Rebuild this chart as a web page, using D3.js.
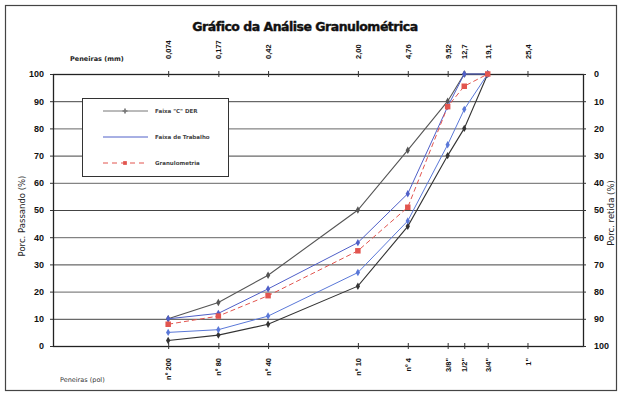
<!DOCTYPE html>
<html><head><meta charset="utf-8">
<script src="https://cdn.jsdelivr.net/npm/d3@7"></script>
<style>
body{margin:0;background:#fff;}
svg{display:block;font-family:"DejaVu Sans",Verdana,sans-serif;}
</style></head>
<body><svg id="c" width="621" height="397"></svg>
<script>
// ---- data ----
const sieveMm = [0.074, 0.177, 0.42, 2.00, 4.76, 9.52, 12.7, 19.1];
const faixaCSup = [10, 16, 26, 50, 72, 90, 100, 100];
const faixaCInf = [2, 4, 8, 22, 44, 70, 80, 100];
const trabalhoSup = [10, 12, 21, 38, 56, 88, 100, 100];
const trabalhoInf = [5, 6, 11, 27, 46, 74, 87, 100];
const granulometria = [8, 11, 18.5, 35, 51, 88, 95.5, 100];
const tickMm = [0.074, 0.177, 0.42, 2.00, 4.76, 9.52, 12.7, 19.1, 38.1];
const tickMmLabels = ["0,074", "0,177", "0,42", "2,00", "4,76", "9,52", "12,7", "19,1", "25,4"];
const tickPolLabels = ["nº 200", "nº 80", "nº 40", "nº 10", "nº 4", "3/8\"", "1/2\"", "3/4\"", "1\""];
const yTicks = [0, 10, 20, 30, 40, 50, 60, 70, 80, 90, 100];
const legendLabels = ["Faixa \"C\" DER", "Faixa de Trabalho", "Granulometria"];

const svg = d3.select("#c");
const L = 53, R = 583, T = 74, B = 346;
const x = d3.scaleLog().domain([0.01, 100]).range([L, R]);
const y = d3.scaleLinear().domain([0, 100]).range([B, T]);
const yr = d3.scaleLinear().domain([0, 100]).range([T, B]);

// outer frame
svg.append("rect").attr("x", 5.5).attr("y", 5.5).attr("width", 611).attr("height", 385)
  .attr("fill", "none").attr("stroke", "#444").attr("stroke-width", 1.2);

// title
svg.append("text").attr("x", 305).attr("y", 31).attr("text-anchor", "middle")
  .attr("font-size", 12.5).attr("font-weight", "bold").attr("fill", "#111")
  .attr("stroke", "#111").attr("stroke-width", 0.4)
  .attr("letter-spacing", -0.5).text("Gráfico da Análise Granulométrica");

// gridlines
svg.append("g").selectAll("line").data(yTicks).join("line")
  .attr("x1", L).attr("x2", R).attr("y1", d => y(d) + 0.5).attr("y2", d => y(d) + 0.5)
  .attr("stroke", (d, i) => i % 2 ? "#444" : "#666").attr("stroke-width", 1);

// frame of plot
svg.append("rect").attr("x", L + 0.5).attr("y", T + 0.5).attr("width", R - L).attr("height", B - T)
  .attr("fill", "none").attr("stroke", "#222").attr("stroke-width", 1.3);

// left axis
const gl = svg.append("g").attr("transform", `translate(${L},0)`)
  .call(d3.axisLeft(y).tickValues(yTicks).tickSize(3).tickFormat(d3.format("d")));
gl.select(".domain").remove();
gl.selectAll("text").attr("font-size", 9).attr("font-weight", "bold").attr("fill", "#111").attr("dx", -3);
gl.selectAll("line").attr("stroke", "#333");

// right axis
const gr = svg.append("g").attr("transform", `translate(${R},0)`)
  .call(d3.axisRight(yr).tickValues(yTicks).tickSize(3).tickFormat(d3.format("d")));
gr.select(".domain").remove();
gr.selectAll("text").attr("font-size", 9).attr("font-weight", "bold").attr("fill", "#111").attr("dx", 5);
gr.selectAll("line").attr("stroke", "#333");

// top axis (mm)
const gt = svg.append("g").attr("transform", `translate(0,${T})`)
  .call(d3.axisTop(x).tickValues(tickMm).tickSize(3).tickFormat((d, i) => tickMmLabels[i]));
gt.select(".domain").remove();
gt.selectAll("line").attr("stroke", "#333").attr("y2", 3).attr("y1", -3);
gt.selectAll("text").attr("font-size", 7.5).attr("font-weight", "bold").attr("fill", "#111")
  .attr("transform", "rotate(-90)").attr("text-anchor", "start").attr("x", 15).attr("y", 0).attr("dy", "0.35em");

// bottom axis (pol)
const gb = svg.append("g").attr("transform", `translate(0,${B})`)
  .call(d3.axisBottom(x).tickValues(tickMm).tickSize(3).tickFormat((d, i) => tickPolLabels[i]));
gb.select(".domain").remove();
gb.selectAll("line").attr("stroke", "#333").attr("y2", 3).attr("y1", -3);
gb.selectAll("text").attr("font-size", 7.5).attr("font-weight", "bold").attr("fill", "#111")
  .attr("transform", "rotate(-90)").attr("text-anchor", "end").attr("x", -12).attr("y", 0).attr("dy", "0.35em");

// axis titles
svg.append("text").attr("x", 70).attr("y", 61).attr("font-size", 6.5).attr("font-weight", "bold").attr("fill", "#222")
  .text("Peneiras  (mm)");
svg.append("text").attr("x", 60).attr("y", 382).attr("font-size", 6.5).attr("fill", "#333")
  .text("Peneiras  (pol)");
svg.append("text").attr("transform", "translate(25,216) rotate(-90)").attr("text-anchor", "middle")
  .attr("font-size", 8.5).attr("fill", "#222").text("Porc. Passando (%)");
svg.append("text").attr("transform", "translate(614,213) rotate(-90)").attr("text-anchor", "middle")
  .attr("font-size", 8.5).attr("fill", "#222").text("Porc. retida (%)");

// series
const series = [
  {v: faixaCSup, color: "#555", dash: null, marker: "diamond", w: 1.1},
  {v: faixaCInf, color: "#333", dash: null, marker: "diamond", w: 1.1},
  {v: trabalhoSup, color: "#4f5fc8", dash: null, marker: "diamond", w: 1},
  {v: trabalhoInf, color: "#5a78d8", dash: null, marker: "diamond", w: 1},
  {v: granulometria, color: "#e2554f", dash: "5,3", marker: "square", w: 1}
];
const line = d3.line().x(d => x(d[0])).y(d => y(d[1]));
series.forEach(s => {
  const pts = sieveMm.map((m, i) => [m, s.v[i]]);
  svg.append("path").datum(pts).attr("d", line).attr("fill", "none")
    .attr("stroke", s.color).attr("stroke-width", s.w).attr("stroke-dasharray", s.dash);
  const sym = s.marker === "square" ? d3.symbolSquare : d3.symbolDiamond;
  const size = s.marker === "square" ? 30 : 16;
  svg.append("g").selectAll("path").data(pts).join("path")
    .attr("transform", d => `translate(${x(d[0])},${y(d[1])})`)
    .attr("d", d3.symbol().type(sym).size(size)).attr("fill", s.color);
});

// legend
const lg = svg.append("g");
lg.append("rect").attr("x", 82.5).attr("y", 98.5).attr("width", 146).attr("height", 78)
  .attr("fill", "#fff").attr("stroke", "#333").attr("stroke-width", 1);
const legStyles = [
  {color: "#777", dash: null, marker: "cross"},
  {color: "#5060c8", dash: null, marker: null},
  {color: "#e2554f", dash: "5,4", marker: "square"}
];
legendLabels.forEach((t, i) => {
  const yy = 111 + i * 26;
  lg.append("line").attr("x1", 103).attr("x2", 148).attr("y1", yy).attr("y2", yy)
    .attr("stroke", legStyles[i].color).attr("stroke-width", 1).attr("stroke-dasharray", legStyles[i].dash);
  if (legStyles[i].marker) {
    lg.append("path").attr("transform", `translate(125,${yy})`)
      .attr("d", d3.symbol().type(legStyles[i].marker === "square" ? d3.symbolSquare : d3.symbolCross).size(14))
      .attr("fill", legStyles[i].color);
  }
  lg.append("text").attr("x", 155).attr("y", yy + 2).attr("font-size", 5.5).attr("font-weight", "bold")
    .attr("fill", "#444").text(t);
});
</script></body></html>
